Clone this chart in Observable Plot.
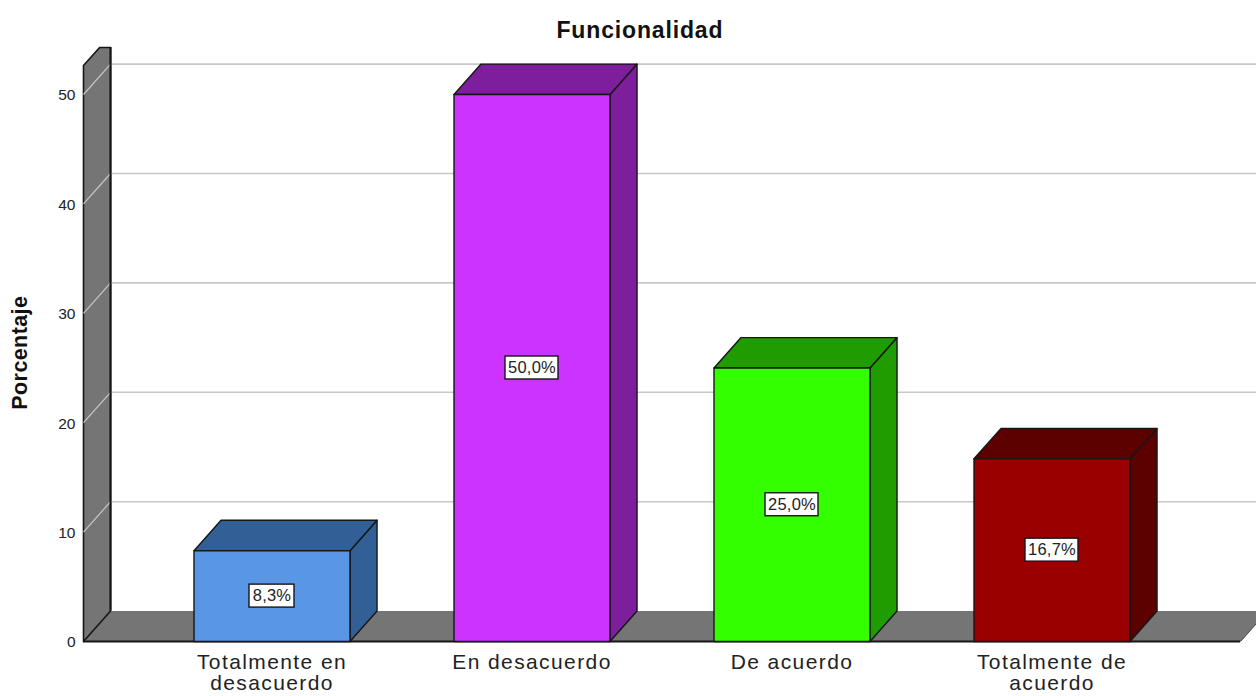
<!DOCTYPE html>
<html>
<head>
<meta charset="utf-8">
<script src="https://cdn.jsdelivr.net/npm/d3@7"></script>
<script src="https://cdn.jsdelivr.net/npm/@observablehq/plot@0.6"></script>
<style>
  html, body { margin: 0; padding: 0; background: #fff; }
  svg { display: block; font-family: "Liberation Sans", Arial, sans-serif; }
  .title-text { letter-spacing: 0.85px; }
  .side-title { letter-spacing: 0.4px; }
  .cat-labels text { letter-spacing: 1.4px; }
  .value-text { letter-spacing: 0.2px; }
</style>
</head>
<body>
<div id="chart"></div>
<script>
// Survey answers for "Funcionalidad"
const categories = ["Totalmente en\ndesacuerdo", "En desacuerdo", "De acuerdo", "Totalmente de\nacuerdo"];
const percentages = [8.3, 50.0, 25.0, 16.7];
const valueLabels = ["8,3%", "50,0%", "25,0%", "16,7%"];
const frontColors = ["#5a96e6", "#cc33ff", "#33ff00", "#990000"];
const sideColors = ["#325f96", "#7d1f9c", "#1f9c00", "#5c0000"];
const yTicks = [0, 10, 20, 30, 40, 50];
const gridValues = [10, 20, 30, 40, 50];

// Extruded look: depth and bar size expressed in scale units
const depthX = 0.104;
const depthY = 2.78;
const halfBar = 0.3;
const wallX = -0.725;
const floorEndX = 3.725;
const wallTopFront = 52.65;
const wallTopBack = 54.3;
const wallTopBreakX = -0.663;
const wallColor = "#757575";
const edge = "#161616";

const faces = [];
const addFace = (id, color, corners) =>
  corners.forEach(([x, y]) => faces.push({id, color, x, y}));

percentages.forEach((v, i) => {
  const l = i - halfBar, r = i + halfBar;
  addFace(`side${i}`, sideColors[i], [[r, 0], [r + depthX, depthY], [r + depthX, v + depthY], [r, v]]);
  addFace(`top${i}`, sideColors[i], [[l, v], [l + depthX, v + depthY], [r + depthX, v + depthY], [r, v]]);
  addFace(`front${i}`, frontColors[i], [[l, 0], [l, v], [r, v], [r, 0]]);
});

const shell = [];
const addShell = (id, corners) =>
  corners.forEach(([x, y]) => shell.push({id, x, y}));
addShell("floor", [[wallX, 0], [wallX + depthX, depthY], [floorEndX + depthX, depthY], [floorEndX, 0]]);
addShell("wall", [[wallX, 0], [wallX, wallTopFront], [wallTopBreakX, wallTopBack], [wallX + depthX, wallTopBack], [wallX + depthX, depthY]]);

const boxes = valueLabels.map((t, i) => {
  const half = (13 + 8 * t.length) / 520;
  const c = percentages[i] / 2;
  return {x1: i - half, x2: i + half, y1: c - 1.05, y2: c + 1.05, x: i, y: c, t};
});

const chart = Plot.plot({
  width: 1256,
  height: 696,
  marginLeft: 83,
  marginRight: 0,
  marginTop: 0,
  marginBottom: 55,
  style: {background: "#fff", fontFamily: '"Liberation Sans", Arial, sans-serif', color: "#222"},
  x: {domain: [0, 3], range: [271.5, 1051.5]},
  y: {domain: [0, 50], range: [641, 94]},
  color: {type: "identity"},
  marks: [
    // Floor and side wall
    Plot.line(shell.filter(d => d.id === "floor"), {x: "x", y: "y", z: "id", fill: wallColor, stroke: "none", curve: "linear-closed"}),
    Plot.line(shell.filter(d => d.id === "wall"), {x: "x", y: "y", z: "id", fill: wallColor, stroke: edge, strokeWidth: 1.6, curve: "linear-closed"}),
    Plot.ruleY([0], {x1: wallX, x2: floorEndX, stroke: edge, strokeWidth: 1.8}),
    Plot.link([0], {x1: floorEndX, y1: 0, x2: floorEndX + depthX, y2: depthY, stroke: "#444", strokeWidth: 1}),
    // Gridlines on the back plane and their continuation across the wall
    Plot.ruleY(gridValues, {y: d => d + depthY, x1: wallX + depthX, x2: floorEndX + depthX, stroke: "#c8c8c8", strokeWidth: 1.6}),
    Plot.link(gridValues, {x1: wallX, y1: d => d, x2: wallX + depthX, y2: d => d + depthY, stroke: "#c8c8c8", strokeWidth: 1.2}),
    Plot.ruleX([wallX + depthX], {y1: depthY, y2: wallTopBack, stroke: edge, strokeWidth: 2}),
    // Bars: side, top and front faces
    Plot.line(faces, {x: "x", y: "y", z: "id", fill: "color", stroke: edge, strokeWidth: 1.4, strokeLinejoin: "round", curve: "linear-closed"}),
    // Value labels in boxes
    Plot.rect(boxes, {x1: "x1", x2: "x2", y1: "y1", y2: "y2", fill: "#fff", stroke: edge, strokeWidth: 1.4}),
    Plot.text(boxes, {x: "x", y: "y", text: "t", fontSize: 16.5, fill: "#222", className: "value-text"}),
    // Axes
    Plot.axisY({ticks: yTicks, tickSize: 0, tickPadding: 8, label: null, fontSize: 15.5, dy: 1, tickFormat: d => String(d)}),
    Plot.axisX({ticks: [0, 1, 2, 3], tickSize: 0, tickPadding: 13, label: null, fontSize: 21, lineHeight: 1, className: "cat-labels", tickFormat: i => categories[i]}),
    // Titles
    Plot.text(["Funcionalidad"], {x: 1.415, y: 55.85, text: d => d, fontSize: 23, fontWeight: "bold", fill: "#111", className: "title-text"}),
    Plot.text(["Porcentaje"], {x: -0.97, y: 26.4, text: d => d, fontSize: 21.5, fontWeight: "bold", rotate: -90, fill: "#111", className: "side-title"})
  ]
});
document.getElementById("chart").append(chart);
</script>
</body>
</html>
